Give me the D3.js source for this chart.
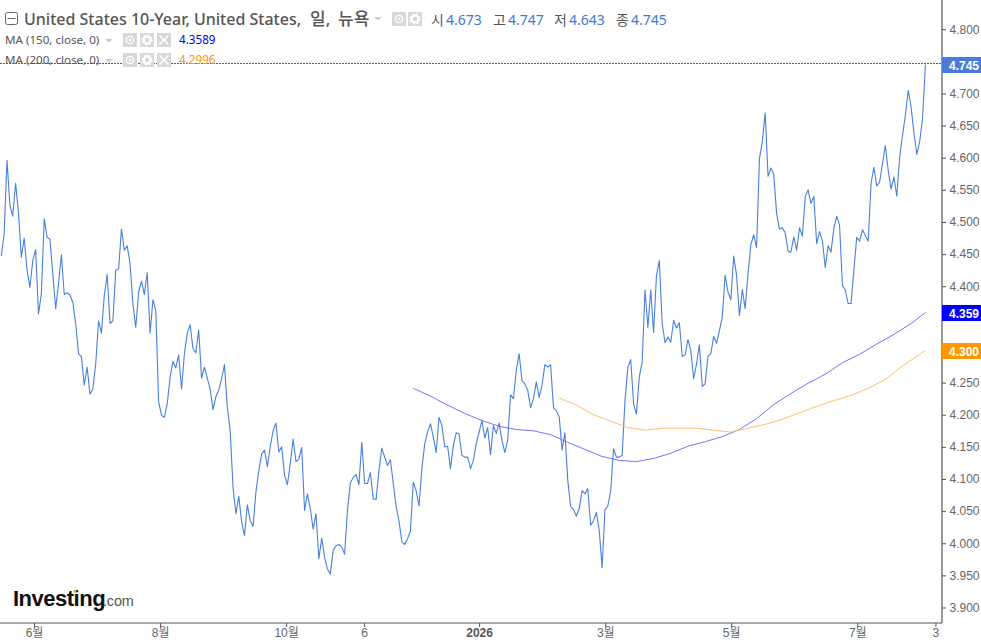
<!DOCTYPE html>
<html><head><meta charset="utf-8">
<script src="https://cdn.jsdelivr.net/npm/d3@7"></script>
<style>html,body{margin:0;padding:0;background:#fff}svg{display:block}</style></head>
<body><svg id="c" width="981" height="640"></svg>
<script>
const closeValues=[4.447,4.482,4.596,4.526,4.509,4.560,4.515,4.445,4.475,4.425,4.398,4.440,4.457,4.357,4.388,4.505,4.476,4.473,4.419,4.365,4.404,4.449,4.387,4.390,4.386,4.375,4.342,4.295,4.290,4.246,4.274,4.232,4.240,4.279,4.346,4.327,4.386,4.418,4.342,4.346,4.425,4.427,4.489,4.456,4.463,4.435,4.373,4.336,4.391,4.408,4.387,4.421,4.327,4.379,4.362,4.220,4.199,4.196,4.217,4.258,4.283,4.273,4.293,4.240,4.295,4.327,4.340,4.303,4.296,4.332,4.257,4.274,4.257,4.240,4.208,4.228,4.238,4.256,4.278,4.212,4.175,
4.087,4.046,4.073,4.033,4.012,4.060,4.035,4.026,4.080,4.113,4.139,4.145,4.119,4.150,4.175,4.187,4.142,4.150,4.106,4.091,4.124,4.162,4.127,4.131,4.149,4.051,4.077,4.054,4.022,4.046,3.976,4.008,3.978,3.960,3.952,3.989,3.996,3.998,3.994,3.983,4.051,4.094,4.102,4.107,4.091,4.157,4.093,4.093,4.110,4.069,4.068,4.113,4.148,4.134,4.121,4.130,4.093,4.057,4.035,4.002,3.998,4.007,4.019,4.095,4.082,4.058,4.116,4.155,4.173,4.186,4.165,4.141,4.196,4.183,4.150,4.151,4.116,4.152,4.172,4.170,4.137,
4.134,4.134,4.116,4.129,4.155,4.173,4.191,4.164,4.180,4.138,4.183,4.171,4.187,4.160,4.141,4.161,4.231,4.225,4.269,4.295,4.253,4.248,4.238,4.211,4.225,4.251,4.227,4.246,4.278,4.274,4.278,4.211,4.206,4.197,4.145,4.172,4.098,4.057,4.053,4.042,4.054,4.082,4.077,4.085,4.028,4.035,4.048,4.020,3.962,4.052,4.058,4.082,4.147,4.134,4.134,4.137,4.222,4.274,4.286,4.217,4.201,4.259,4.282,
4.394,4.336,4.394,4.328,4.417,4.440,4.342,4.312,4.321,4.313,4.347,4.335,4.343,4.291,4.293,4.317,4.300,4.256,4.279,4.309,4.244,4.248,4.291,4.295,4.322,4.311,4.331,4.352,4.417,4.391,4.379,4.447,4.417,4.354,4.395,4.365,4.419,4.465,4.480,4.460,4.599,4.625,4.670,4.571,4.584,4.574,4.513,4.489,4.491,4.483,4.455,4.453,4.477,4.456,4.491,4.478,4.539,4.550,4.529,4.540,4.466,4.485,
4.471,4.429,4.463,4.453,4.490,4.509,4.495,4.401,4.394,4.373,4.373,4.425,4.476,4.470,4.488,4.479,4.470,4.560,4.585,4.556,4.562,4.591,4.619,4.580,4.551,4.570,4.540,4.601,4.635,4.666,4.705,4.679,4.638,4.605,4.625,4.661,4.745];
const ma150Index=[144,150,156,162,168,174,180,186,192,198,204,210,216,222,228,234,240,246,252,258,264,270,276,282,288,294,300,306,312,318,323];
const ma150Values=[4.241,4.229,4.215,4.202,4.191,4.182,4.177,4.175,4.169,4.157,4.146,4.135,4.129,4.127,4.132,4.140,4.151,4.158,4.166,4.177,4.194,4.216,4.233,4.249,4.263,4.281,4.294,4.310,4.325,4.342,4.359];
const ma200Index=[195,201,207,213,219,225,231,237,243,249,255,261,267,273,279,285,291,297,303,309,315,321,323];
const ma200Values=[4.226,4.215,4.200,4.190,4.180,4.176,4.179,4.179,4.179,4.176,4.173,4.179,4.185,4.193,4.203,4.213,4.222,4.230,4.241,4.255,4.276,4.294,4.300];
const yTicks=[4.8,4.7,4.65,4.6,4.55,4.5,4.45,4.4,4.25,4.2,4.15,4.1,4.05,4.0,3.95,3.9];
const xTickIndex=[11.43,55.5,99.55,126.8,167.0,211.1,255.1,299.2,326.5];
const xTickLabels=["6월","8월","10월","6","2026","3월","5월","7월","3"];
const titleParts=["United States 10-Year, United States,","일,","뉴욕"];
const ohlcLabels=["시","고","저","종"];
const ohlcValues=["4.673","4.747","4.643","4.745"];

const FONT="'Liberation Sans','Noto Sans CJK KR',sans-serif";
const svg=d3.select("#c");
const x=d3.scaleLinear().domain([0,323]).range([1.3,925.4]);
const y=d3.scaleLinear().domain([3.9,4.8]).range([607.5,29.2]);
const line=d3.line().x(d=>x(d[0])).y(d=>y(d[1]));
const AX="#555";

svg.append("path").datum(closeValues.map((v,i)=>[i,v])).attr("d",line)
  .attr("fill","none").attr("stroke","#4a80dc").attr("stroke-width",1.1).attr("stroke-linejoin","round");
svg.append("path").datum(ma150Values.map((v,i)=>[ma150Index[i],v])).attr("d",line)
  .attr("fill","none").attr("stroke","#7466ff").attr("stroke-width",.95);
svg.append("path").datum(ma200Values.map((v,i)=>[ma200Index[i],v])).attr("d",line)
  .attr("fill","none").attr("stroke","#ffbb66").attr("stroke-width",.95);

const lastY=Math.floor(y(4.745))+.5-1;
svg.append("line").attr("x1",0).attr("x2",942).attr("y1",lastY).attr("y2",lastY)
  .attr("stroke","#3a5fc4").attr("stroke-width",1).attr("stroke-dasharray","2,1");

const yAxis=svg.append("g").attr("transform","translate(942,0)")
  .call(d3.axisRight(y).tickValues(yTicks).tickFormat(d3.format(".3f")).tickSize(4));
yAxis.select(".domain").remove();
yAxis.selectAll("line").attr("stroke",AX);
yAxis.selectAll("text").attr("x",7.5).attr("fill","#666").style("font","12px "+FONT);
svg.append("line").attr("x1",942).attr("x2",942).attr("y1",0).attr("y2",623).attr("stroke",AX).attr("stroke-width",1.2);

const xAxis=svg.append("g").attr("transform","translate(0,623)")
  .call(d3.axisBottom(x).tickValues(xTickIndex).tickFormat((d,i)=>xTickLabels[i]).tickSize(4));
xAxis.select(".domain").remove();
xAxis.selectAll("line").attr("stroke",AX);
xAxis.selectAll("text").attr("y",5.5).attr("fill","#666").style("font","12px "+FONT)
  .filter((d,i)=>xTickLabels[i]==="2026").style("font-weight","bold").attr("fill","#555");
svg.append("line").attr("x1",0).attr("x2",942).attr("y1",623).attr("y2",623).attr("stroke",AX).attr("stroke-width",1.2);

[[4.745,"#4a7bdc","4.745"],[4.359,"#0000ff","4.359"],[4.2996,"#ff9800","4.300"]].forEach(([v,c,t])=>{
  const yy=Math.round(y(v));
  svg.append("rect").attr("x",942).attr("y",yy-8).attr("width",39).attr("height",16).attr("fill",c);
  svg.append("text").attr("x",949).attr("y",yy+4.5).attr("fill","#fff").style("font","bold 12px "+FONT).text(t);
});

const icon=(px,py,kind)=>{
  const g=svg.append("g").attr("transform",`translate(${px},${py})`);
  g.append("rect").attr("width",14).attr("height",14).attr("fill","#d8d8d8");
  if(kind==="eye"){
    g.append("circle").attr("cx",7).attr("cy",7).attr("r",3.6).attr("fill","none").attr("stroke","#fff").attr("stroke-width",1.4);
    g.append("circle").attr("cx",7).attr("cy",7).attr("r",1.2).attr("fill","#fff");
  }else if(kind==="gear"){
    g.append("circle").attr("cx",7).attr("cy",7).attr("r",3.4).attr("fill","none").attr("stroke","#fff").attr("stroke-width",2.2);
    g.append("circle").attr("cx",7).attr("cy",7).attr("r",5).attr("fill","none").attr("stroke","#fff").attr("stroke-width",1.4).attr("stroke-dasharray","2,1.9");
  }else{
    g.append("path").attr("d","M2.5 2.5L11.5 11.5M11.5 2.5L2.5 11.5").attr("stroke","#fff").attr("stroke-width",1.6);
  }
};
const tri=(px,py)=>svg.append("path").attr("d",`M${px} ${py}h8l-4 3.5z`).attr("fill","#ccc");

svg.append("rect").attr("x",5.5).attr("y",12.5).attr("width",12).attr("height",12).attr("rx",2).attr("fill","#fff").attr("stroke","#666");
svg.append("line").attr("x1",7.5).attr("x2",15.5).attr("y1",18.5).attr("y2",18.5).attr("stroke","#666");
const title=svg.append("text").attr("y",25).attr("fill","#555")
  .style("font","500 16px 'Noto Sans','Noto Sans CJK KR',sans-serif");
title.append("tspan").attr("x",24).text(titleParts[0]);
title.append("tspan").attr("x",310).style("font-size","17px").text(titleParts[1]);
title.append("tspan").attr("x",338).style("font-size","17px").text(titleParts[2]);
tri(374,17); icon(392,12,"eye"); icon(408,12,"gear");
const ohlcX=[431,493,554,616], ohlcVX=[446,508,569,631];
ohlcLabels.forEach((t,i)=>{
  svg.append("text").attr("x",ohlcX[i]).attr("y",25).attr("fill","#555").style("font","14px 'Noto Sans CJK KR',sans-serif").text(t);
  svg.append("text").attr("x",ohlcVX[i]).attr("y",25).attr("fill","#3f78dc").style("font","14px 'Noto Sans',sans-serif").text(ohlcValues[i]);
});
[[44,"MA (150, close, 0)","4.3589","#0000ff",33],[64,"MA (200, close, 0)","4.2996","#ff9800",53]].forEach(([by,t,val,c,iy])=>{
  svg.append("text").attr("x",5).attr("y",by).attr("fill","#555").style("font","11.6px 'Noto Sans',sans-serif").text(t);
  tri(105,by-5); icon(123,iy,"eye"); icon(140,iy,"gear"); icon(157,iy,"x");
  svg.append("text").attr("x",179).attr("y",by).attr("fill",c).style("font","11.7px 'Noto Sans',sans-serif").text(val);
});

svg.append("text").attr("x",13).attr("y",606).attr("fill","#111")
  .style("font","bold 22px "+FONT).style("letter-spacing","-0.5px").text("Investing");
svg.append("text").attr("x",103).attr("y",606).attr("fill","#555")
  .style("font","14.5px "+FONT).style("letter-spacing","-0.2px").text(".com");
svg.append("circle").attr("cx",75).attr("cy",591).attr("r",1.6).attr("fill","#f5a623");
</script></body></html>
